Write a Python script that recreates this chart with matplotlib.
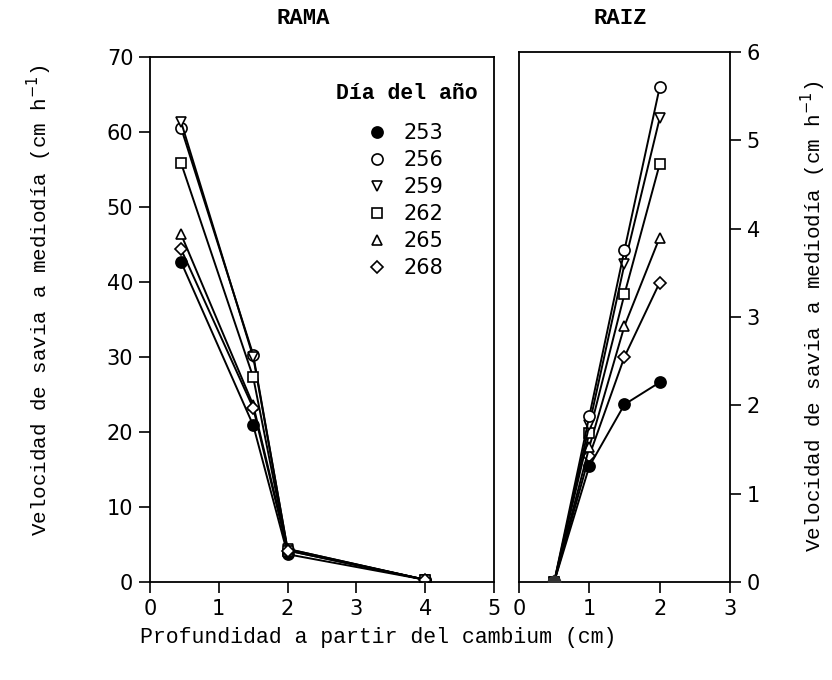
import matplotlib
matplotlib.use("Agg")
import matplotlib.pyplot as plt

# Day of year for each series
dias = ["253", "256", "259", "262", "265", "268"]
marcadores = ["o", "o", "v", "s", "^", "D"]
rellenos = ["black", "white", "white", "white", "white", "white"]

# RAMA (branch): depth from cambium (cm) and noon sap velocity (cm h-1)
prof_rama = [0.45, 1.5, 2.0, 4.0]
vel_rama = {
    "253": [42.7, 20.9, 3.7, 0.3],
    "256": [60.6, 30.3, 4.3, 0.3],
    "259": [61.4, 30.0, 4.4, 0.3],
    "262": [55.9, 27.3, 4.2, 0.3],
    "265": [46.4, 23.6, 4.4, 0.3],
    "268": [44.4, 23.2, 4.2, 0.3],
}

# RAIZ (root)
prof_raiz = [0.5, 1.0, 1.5, 2.0]
vel_raiz = {
    "253": [0.0, 1.31, 2.01, 2.26],
    "256": [0.0, 1.88, 3.76, 5.60],
    "259": [0.0, 1.78, 3.60, 5.25],
    "262": [0.0, 1.69, 3.26, 4.73],
    "265": [0.0, 1.53, 2.90, 3.90],
    "268": [0.0, 1.43, 2.55, 3.39],
}

mono = ["Liberation Mono", "DejaVu Sans Mono"]
sans = ["DejaVu Sans"]

fig = plt.figure(figsize=(8.32, 6.80), dpi=100)
ax1 = fig.add_axes([150 / 832, 98 / 680, 344 / 832, 525 / 680])
ax2 = fig.add_axes([519 / 832, 98 / 680, 211 / 832, 530 / 680])

ms = {"o": 8, "v": 7.5, "s": 7, "^": 7.5, "D": 6}

for d, m, fc in zip(dias, marcadores, rellenos):
    ax1.plot(prof_rama, vel_rama[d], color="black", lw=1.4, marker=m,
             markersize=ms[m], markerfacecolor=fc, markeredgecolor="black",
             markeredgewidth=1.2, label=d)
for d, m, fc in reversed(list(zip(dias, marcadores, rellenos))):
    ax2.plot(prof_raiz, vel_raiz[d], color="black", lw=1.4, marker=m,
             markersize=ms[m], markerfacecolor=fc, markeredgecolor="black",
             markeredgewidth=1.2)
# shared origin point
ax2.plot([prof_raiz[0]], [vel_raiz["253"][0]], marker="o", color="#333333",
         markersize=9, zorder=5)

ax1.set_xlim(0, 5)
ax1.set_ylim(0, 70)
ax1.set_xticks(range(0, 6))
ax1.set_yticks(range(0, 71, 10))
ax1.tick_params(direction="out", length=8, width=1.2, labelsize=15,
                top=False, right=False, pad=4)

ax2.set_xlim(0, 3)
ax2.set_ylim(0, 6)
ax2.set_xticks(range(0, 4))
ax2.set_yticks(range(0, 7))
ax2.yaxis.tick_right()
ax2.yaxis.set_label_position("right")
ax2.tick_params(direction="out", length=8, width=1.2, labelsize=15,
                left=False, top=False, pad=4)

for ax in (ax1, ax2):
    for s in ax.spines.values():
        s.set_linewidth(1.3)
    for lab in ax.get_xticklabels() + ax.get_yticklabels():
        lab.set_family(sans)

ylab = "Velocidad de savia a mediodía (cm h$^{-1}$)"
ax1.set_ylabel(ylab, family=mono, fontsize=15)
ax2.set_ylabel(ylab, family=mono, fontsize=15)
ax1.yaxis.set_label_coords((54 - 150) / 344, (582 - 300) / 525)
ax2.yaxis.set_label_coords((799 - 519) / 211, (582 - 316) / 530)

fig.text(303 / 832, 1 - 19 / 680, "RAMA", family=mono, fontsize=16,
         fontweight="bold", ha="center", va="center")
fig.text(620 / 832, 1 - 19 / 680, "RAIZ", family=mono, fontsize=16,
         fontweight="bold", ha="center", va="center")

fig.text(378 / 832, 1 - 637 / 680, "Profundidad a partir del cambium (cm)",
         family=mono, fontsize=15.5, ha="center", va="center")

leg = ax1.legend(title="Día del año", loc="upper center",
                 bbox_to_anchor=((407 - 150) / 344, (582 - 83) / 525),
                 frameon=False, prop={"family": sans, "size": 15},
                 handlelength=0.6, handletextpad=1.0, labelspacing=0.33,
                 markerfirst=True, borderaxespad=0.0, borderpad=0.0)
for h in leg.legend_handles:
    h.set_linestyle("none")
leg.get_title().set_family(mono)
leg.get_title().set_fontsize(15.5)
leg.get_title().set_fontweight("bold")
leg._legend_box.align = "center"
leg._legend_box.sep = 14

fig.savefig("out.png", dpi=100)
